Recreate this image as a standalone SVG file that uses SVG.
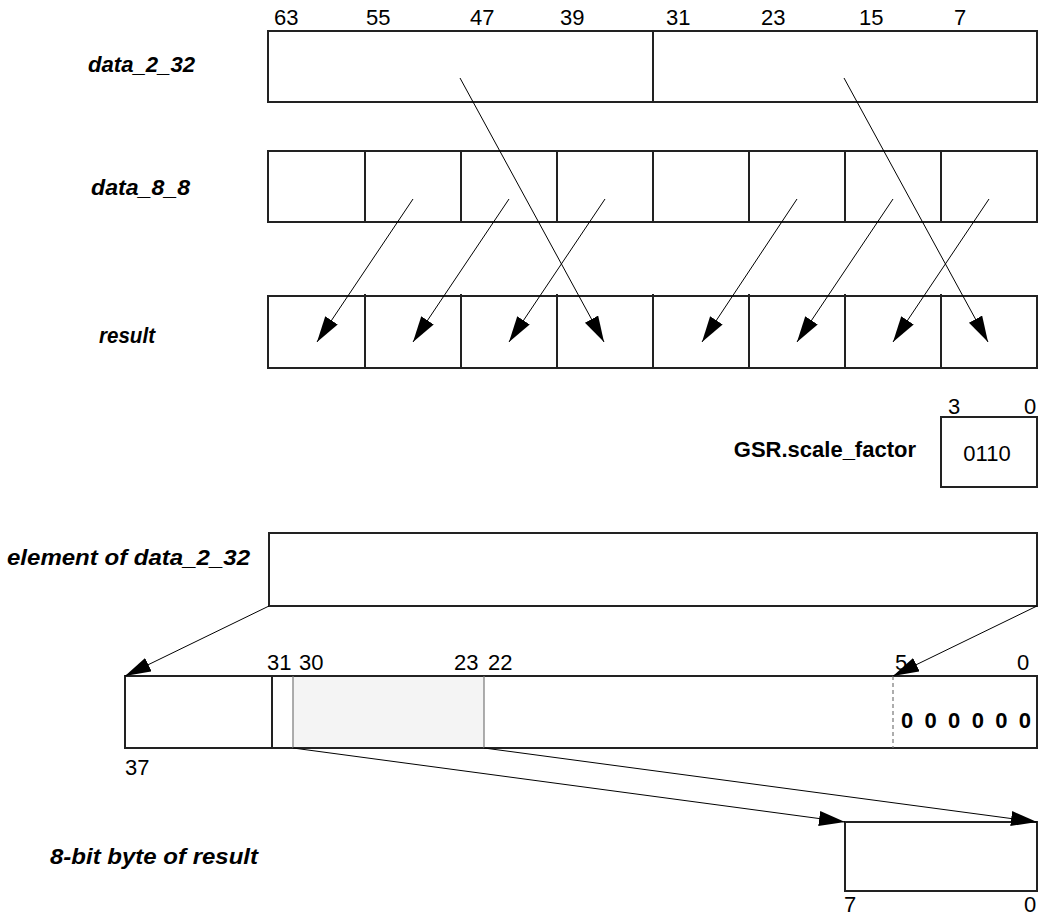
<svg xmlns="http://www.w3.org/2000/svg" width="1043" height="915" viewBox="0 0 1043 915">
<style>
.box{fill:#fff;stroke:#222;stroke-width:2}
.div{stroke:#222;stroke-width:2}
.gl{stroke:#777;stroke-width:1.2}
.arr{stroke:#000;stroke-width:1;fill:none;marker-end:url(#ah)}
.lbl{font-family:"Liberation Sans",Arial,sans-serif;font-size:22px;font-weight:bold;font-style:italic;fill:#000}
.num{font-family:"Liberation Sans",Arial,sans-serif;font-size:22px;fill:#000}
.bold{font-family:"Liberation Sans",Arial,sans-serif;font-size:22px;font-weight:bold;fill:#000}
</style>
<defs>
<marker id="ah" markerUnits="userSpaceOnUse" markerWidth="28" markerHeight="18" refX="26" refY="7.5" orient="auto">
<path d="M0,0 L26,7.5 L0,15 z" fill="#000"/>
</marker>
</defs>

<g id="label-data_2_32"><text class="lbl" x="88" y="72" textLength="107" lengthAdjust="spacingAndGlyphs">data_2_32</text></g>
<g id="label-data_8_8"><text class="lbl" x="91" y="195" textLength="99" lengthAdjust="spacingAndGlyphs">data_8_8</text></g>
<g id="label-result"><text class="lbl" x="99" y="343" textLength="56" lengthAdjust="spacingAndGlyphs">result</text></g>

<g id="data_2_32">
<rect class="box" x="268" y="31" width="769" height="71"/>
<line class="div" x1="653" y1="31" x2="653" y2="102"/>
<text class="num" x="274" y="25">63</text>
<text class="num" x="366" y="25">55</text>
<text class="num" x="470" y="25">47</text>
<text class="num" x="560" y="25">39</text>
<text class="num" x="666" y="25">31</text>
<text class="num" x="761" y="25">23</text>
<text class="num" x="859" y="25">15</text>
<text class="num" x="954" y="25">7</text>
</g>

<g id="data_8_8">
<rect class="box" x="268" y="151" width="769" height="71"/>
<line class="div" x1="365" y1="151" x2="365" y2="222"/>
<line class="div" x1="461" y1="151" x2="461" y2="222"/>
<line class="div" x1="557" y1="151" x2="557" y2="222"/>
<line class="div" x1="653" y1="151" x2="653" y2="222"/>
<line class="div" x1="749" y1="151" x2="749" y2="222"/>
<line class="div" x1="845" y1="151" x2="845" y2="222"/>
<line class="div" x1="941" y1="151" x2="941" y2="222"/>
</g>

<g id="result">
<rect class="box" x="268" y="296" width="769" height="72"/>
<line class="div" x1="365" y1="294" x2="365" y2="368"/>
<line class="div" x1="461" y1="294" x2="461" y2="368"/>
<line class="div" x1="557" y1="294" x2="557" y2="368"/>
<line class="div" x1="653" y1="294" x2="653" y2="368"/>
<line class="div" x1="749" y1="294" x2="749" y2="368"/>
<line class="div" x1="845" y1="294" x2="845" y2="368"/>
<line class="div" x1="941" y1="294" x2="941" y2="368"/>
</g>

<g id="gsr">
<text class="bold" x="916" y="457" text-anchor="end">GSR.scale_factor</text>
<rect class="box" x="941" y="417" width="96" height="70"/>
<text class="num" x="948" y="414">3</text>
<text class="num" x="1024" y="414">0</text>
<text class="num" x="987" y="461" text-anchor="middle">0110</text>
</g>

<g id="label-element"><text class="lbl" x="7" y="565" textLength="243" lengthAdjust="spacingAndGlyphs">element of data_2_32</text></g>
<g id="element">
<rect class="box" x="269" y="533" width="768" height="73"/>
</g>

<g id="expanded">
<rect class="box" x="125" y="676" width="912" height="72"/>
<rect x="293" y="677" width="191" height="70" fill="#f4f4f4"/>
<line class="gl" x1="293" y1="676" x2="293" y2="748"/>
<line class="gl" x1="484" y1="676" x2="484" y2="748"/>
<line class="div" x1="272" y1="676" x2="272" y2="748"/>
<line x1="893" y1="676" x2="893" y2="748" stroke="#777" stroke-width="1.2" stroke-dasharray="4,3"/>
<text class="num" x="267" y="670">31</text>
<text class="num" x="299" y="670">30</text>
<text class="num" x="454" y="670">23</text>
<text class="num" x="488" y="670">22</text>
<text class="num" x="895" y="670">5</text>
<text class="num" x="1017" y="670">0</text>
<text class="num" x="125" y="775">37</text>
<text class="bold" x="901" y="728" textLength="130" lengthAdjust="spacing">0 0 0 0 0 0</text>
</g>

<g id="label-byte"><text class="lbl" x="50" y="864" textLength="208" lengthAdjust="spacingAndGlyphs">8-bit byte of result</text></g>
<g id="byte">
<rect class="box" x="845" y="822" width="192" height="69"/>
<text class="num" x="844" y="912">7</text>
<text class="num" x="1024" y="912">0</text>
</g>

<g id="connectors">
<line class="arr" x1="460" y1="78" x2="604" y2="342"/>
<line class="arr" x1="844" y1="78" x2="988" y2="342"/>
<line class="arr" x1="413" y1="199" x2="317" y2="342"/>
<line class="arr" x1="509" y1="199" x2="413" y2="342"/>
<line class="arr" x1="605" y1="199" x2="509" y2="342"/>
<line class="arr" x1="797" y1="199" x2="702" y2="342"/>
<line class="arr" x1="893" y1="199" x2="797" y2="342"/>
<line class="arr" x1="989" y1="199" x2="893" y2="342"/>
<line class="arr" x1="269" y1="606" x2="125" y2="676"/>
<line class="arr" x1="1037" y1="606" x2="893" y2="676"/>
<line class="arr" x1="293" y1="748" x2="845" y2="822"/>
<line class="arr" x1="484" y1="748" x2="1037" y2="822"/>
</g>
</svg>
